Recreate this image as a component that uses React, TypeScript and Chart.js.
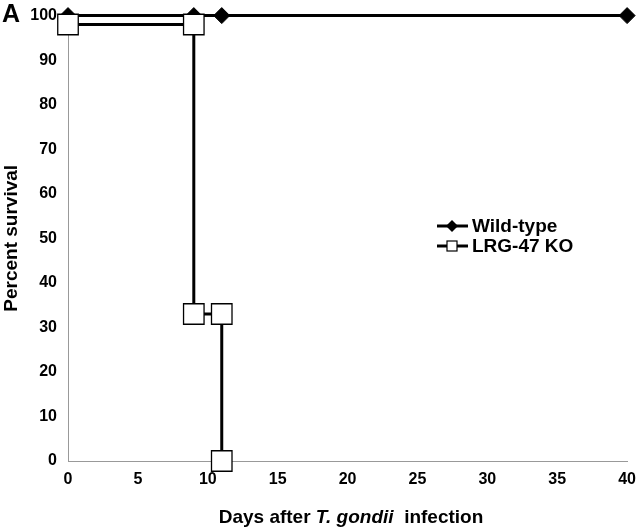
import React, { useEffect, useRef } from "react";
import { Chart, registerables } from "chart.js";

Chart.register(...registerables);

const wildTypeDays = [0, 9, 11, 40];
const wildTypeSurvival = [100, 100, 100, 100];
const koDays = [0, 9, 9, 11, 11];
const koSurvival = [98, 98, 33, 33, 0];
const xTicks = [0, 5, 10, 15, 20, 25, 30, 35, 40];
const yTicks = [0, 10, 20, 30, 40, 50, 60, 70, 80, 90, 100];
const seriesNames = ["Wild-type", "LRG-47 KO"];

const FONT = "Arial, 'Liberation Sans', sans-serif";

export default function App() {
  const ref = useRef<HTMLCanvasElement | null>(null);
  useEffect(() => {
    document.body.style.margin = "0";
    const canvas = ref.current!;
    const overlay = {
      id: "overlay",
      afterDraw(chart: any) {
        const ctx = chart.ctx as CanvasRenderingContext2D;
        ctx.save();
        // Panel letter
        ctx.fillStyle = "#000";
        ctx.font = `bold 25px ${FONT}`;
        ctx.textBaseline = "middle";
        ctx.textAlign = "left";
        ctx.fillText("A", 2, 15);
        // x title with italic part
        const y = 518;
        const parts: [string, string][] = [
          ["Days after ", `bold 19px ${FONT}`],
          ["T. gondii", `italic bold 19px ${FONT}`],
          ["  infection", `bold 19px ${FONT}`],
        ];
        let total = 0;
        for (const [t, f] of parts) { ctx.font = f; total += ctx.measureText(t).width; }
        let x = 351 - total / 2;
        for (const [t, f] of parts) {
          ctx.font = f;
          ctx.fillText(t, x, y);
          x += ctx.measureText(t).width;
        }
        // Legend
        const lx0 = 437, lx1 = 468, mx = 452, tx = 472;
        const rows = [226, 246];
        ctx.font = `bold 19px ${FONT}`;
        ctx.textBaseline = "middle";
        rows.forEach((ry, i) => {
          ctx.strokeStyle = "#000";
          ctx.lineWidth = 3;
          ctx.beginPath();
          ctx.moveTo(lx0, ry);
          ctx.lineTo(lx1, ry);
          ctx.stroke();
          if (i === 0) {
            ctx.fillStyle = "#000";
            ctx.beginPath();
            ctx.moveTo(mx, ry - 6);
            ctx.lineTo(mx + 6, ry);
            ctx.lineTo(mx, ry + 6);
            ctx.lineTo(mx - 6, ry);
            ctx.closePath();
            ctx.fill();
          } else {
            ctx.fillStyle = "#fff";
            ctx.lineWidth = 1.2;
            ctx.fillRect(mx - 5, ry - 5, 10, 10);
            ctx.strokeRect(mx - 5, ry - 5, 10, 10);
          }
          ctx.fillStyle = "#000";
          ctx.fillText(seriesNames[i], tx, ry + 1);
        });
        ctx.restore();
      },
    };
    const chart = new Chart(canvas, {
      type: "line",
      data: {
        datasets: [
          {
            label: seriesNames[1],
            data: koDays.map((d, i) => ({ x: d, y: koSurvival[i] })),
            borderColor: "#000",
            borderWidth: 3,
            pointStyle: "rect",
            pointRadius: 14.5,
            pointBackgroundColor: "#fff",
            pointBorderColor: "#000",
            pointBorderWidth: 1.3,
            clip: false as any,
            order: 0,
          },
          {
            label: seriesNames[0],
            data: wildTypeDays.map((d, i) => ({ x: d, y: wildTypeSurvival[i] })),
            borderColor: "#000",
            borderWidth: 3,
            pointStyle: "rectRot",
            pointRadius: 8,
            pointBackgroundColor: "#000",
            pointBorderColor: "#000",
            pointBorderWidth: 1,
            clip: false as any,
            order: 1,
          },
        ],
      },
      options: {
        animation: false,
        responsive: false,
        layout: { autoPadding: false, padding: { top: 9, right: 12, left: 0, bottom: 0 } },
        plugins: { legend: { display: false }, tooltip: { enabled: false } },
        scales: {
          x: {
            type: "linear",
            min: 0,
            max: 40,
            afterFit(scale: any) { scale.height = 68; },
            afterBuildTicks(scale: any) { scale.ticks = xTicks.map((v) => ({ value: v })); },
            grid: { display: false, drawOnChartArea: false, drawTicks: true, tickLength: 5, color: "#999" },
            border: { display: true, color: "#999", width: 1 },
            ticks: { color: "#000", font: { family: FONT, size: 16, weight: "bold" }, padding: 4, maxRotation: 0 },
          },
          y: {
            type: "linear",
            min: 0,
            max: 100,
            afterFit(scale: any) { scale.width = 68; },
            afterBuildTicks(scale: any) { scale.ticks = yTicks.map((v) => ({ value: v })); },
            grid: { display: false, drawOnChartArea: false, drawTicks: true, tickLength: 5, color: "#999" },
            border: { display: true, color: "#999", width: 1 },
            ticks: { color: "#000", font: { family: FONT, size: 16, weight: "bold" }, padding: 6 },
            title: { display: true, text: "Percent survival", color: "#000", font: { family: FONT, size: 19, weight: "bold" }, padding: { top: 0, bottom: 0 } },
          },
        },
      },
      plugins: [overlay],
    } as any);
    return () => chart.destroy();
  }, []);
  return <canvas ref={ref} width={640} height={529} style={{ display: "block" }} />;
}
